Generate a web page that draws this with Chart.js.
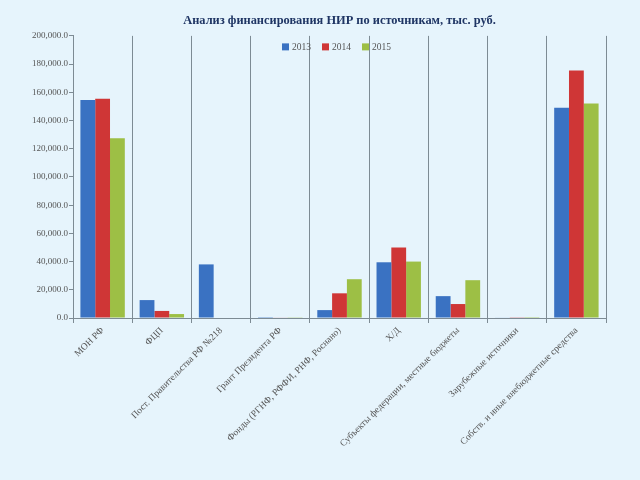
<!DOCTYPE html>
<html><head><meta charset="utf-8">
<script src="https://cdn.jsdelivr.net/npm/chart.js@4/dist/chart.umd.min.js"></script>
<style>
html,body{margin:0;padding:0;background:#e6f4fc;}
canvas{display:block;}
</style></head>
<body>
<canvas id="c" width="640" height="480"></canvas>
<script>
const categories = ["МОН РФ","ФЦП","Пост. Правительства РФ №218","Грант Президента РФ","Фонды (РГНФ, РФФИ, РНФ, Роснано)","Х/Д","Субъекты федерации, местные бюджеты","Зарубежные источники","Собств. и иные внебюджетные средства"];
const seriesNames = ["2013","2014","2015"];
const values2013 = [154500, 12700, 38000, 600, 5600, 39500, 15500, 400, 149000];
const values2014 = [155500, 5000, 0, 300, 17500, 50000, 9900, 200, 175500];
const values2015 = [127500, 2800, 0, 200, 27500, 40000, 26800, 100, 152000];
const yTicksMax = 200000;
const yStep = 20000;

const colors = ["#3a72c2", "#cf3636", "#9dbf45"];
const gray = "#7d8b94";
const serif = "'Liberation Serif', serif";

// Legend drawn inside the chart area (top centre), from the dataset labels/colours
const insideLegend = {
  id: 'insideLegend',
  afterDraw(chart) {
    const ctx = chart.ctx;
    const area = chart.chartArea;
    const ds = chart.data.datasets;
    ctx.save();
    ctx.font = "9.5px " + serif;
    ctx.textBaseline = 'middle';
    const box = 7, gapBox = 3, gapItem = 11;
    const widths = ds.map(d => box + gapBox + ctx.measureText(d.label).width);
    const total = widths.reduce((a, b) => a + b, 0) + gapItem * (ds.length - 1);
    let x = (area.left + area.right) / 2 - total / 2 - 3;
    const y = area.top + 11;
    ds.forEach((d, i) => {
      ctx.fillStyle = d.backgroundColor;
      ctx.fillRect(x, y - box / 2, box, box);
      ctx.fillStyle = "#555";
      ctx.fillText(d.label, x + box + gapBox, y + 0.5);
      x += widths[i] + gapItem;
    });
    ctx.restore();
  }
};

new Chart(document.getElementById('c'), {
  type: 'bar',
  data: {
    labels: categories,
    datasets: [
      {label: seriesNames[0], data: values2013, backgroundColor: colors[0]},
      {label: seriesNames[1], data: values2014, backgroundColor: colors[1]},
      {label: seriesNames[2], data: values2015, backgroundColor: colors[2]}
    ]
  },
  plugins: [insideLegend],
  options: {
    responsive: false,
    animation: false,
    layout: {padding: {right: 34, left: 0, top: 0, bottom: 0}},
    datasets: {bar: {categoryPercentage: 0.75, barPercentage: 1}},
    plugins: {
      title: {
        display: true,
        text: "Анализ финансирования НИР по источникам, тыс. руб.",
        color: "#1f3564",
        fullSize: false,
        font: {family: serif, size: 12.4, weight: 'bold'},
        padding: {top: 13, bottom: 8}
      },
      legend: {display: false},
      tooltip: {enabled: false}
    },
    scales: {
      x: {
        grid: {
          offset: true,
          color: (ctx) => ctx.index === categories.length ? 'rgba(0,0,0,0)' : gray,
          tickColor: gray,
          tickLength: 5,
          drawTicks: true
        },
        border: {color: gray},
        ticks: {
          minRotation: 45, maxRotation: 45,
          color: "#555",
          padding: 2,
          font: {family: serif, size: 9.5}
        },
        afterFit: (s) => { s.height = 162; }
      },
      y: {
        min: 0, max: yTicksMax,
        grid: {drawOnChartArea: false, drawTicks: true, tickLength: 4, tickColor: gray},
        border: {color: gray},
        ticks: {
          stepSize: yStep,
          color: "#555",
          padding: 1,
          font: {family: serif, size: 9},
          callback: (v) => v.toLocaleString('en-US', {minimumFractionDigits: 1, maximumFractionDigits: 1})
        },
        afterFit: (s) => { s.width = 73; }
      }
    }
  }
});
</script>
</body></html>
